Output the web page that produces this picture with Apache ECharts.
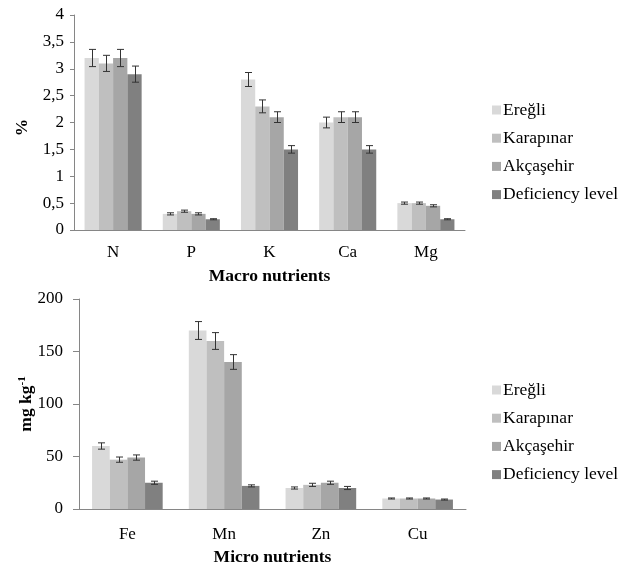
<!DOCTYPE html>
<html>
<head>
<meta charset="utf-8">
<script src="https://cdn.jsdelivr.net/npm/echarts@6/dist/echarts.min.js"></script>
<style>html,body{margin:0;padding:0;background:#fff;}#c{width:624px;height:565px;}</style>
</head>
<body>
<div id="c"></div>
<script>
const seriesNames = ['Ereğli', 'Karapınar', 'Akçaşehir', 'Deficiency level'];
const colors = ['#d9d9d9', '#bfbfbf', '#a6a6a6', '#808080'];

const macroCats = ['N', 'P', 'K', 'Ca', 'Mg'];
const macroEregli = [3.2, 0.3, 2.8, 2.0, 0.5];
const macroKarapinar = [3.1, 0.35, 2.3, 2.1, 0.5];
const macroAkcasehir = [3.2, 0.3, 2.1, 2.1, 0.45];
const macroDeficiency = [2.9, 0.2, 1.5, 1.5, 0.2];
const macroEregliErr = [0.16, 0.02, 0.13, 0.1, 0.02];
const macroKarapinarErr = [0.15, 0.02, 0.12, 0.1, 0.02];
const macroAkcasehirErr = [0.16, 0.02, 0.1, 0.1, 0.02];
const macroDeficiencyErr = [0.15, 0.01, 0.07, 0.07, 0.01];
const macroTicks = [0, 0.5, 1, 1.5, 2, 2.5, 3, 3.5, 4];

const microCats = ['Fe', 'Mn', 'Zn', 'Cu'];
const microEregli = [60, 170, 20, 10];
const microKarapinar = [47, 160, 23, 10];
const microAkcasehir = [49, 140, 25, 10];
const microDeficiency = [25, 22, 20, 9];
const microEregliErr = [3, 8.5, 1, 0.5];
const microKarapinarErr = [2.5, 8, 1.5, 0.5];
const microAkcasehirErr = [2.5, 7, 1.5, 0.5];
const microDeficiencyErr = [1.5, 1, 1.5, 0.5];
const microTicks = [0, 50, 100, 150, 200];

const macroVals = [macroEregli, macroKarapinar, macroAkcasehir, macroDeficiency];
const macroErrs = [macroEregliErr, macroKarapinarErr, macroAkcasehirErr, macroDeficiencyErr];
const microVals = [microEregli, microKarapinar, microAkcasehir, microDeficiency];
const microErrs = [microEregliErr, microKarapinarErr, microAkcasehirErr, microDeficiencyErr];

const FONT = 'Liberation Serif';
const GAP = 0.27;

function errRender(si) {
  return function (params, api) {
    const ci = api.value(0), v = api.value(1), e = api.value(2);
    const band = api.size([1, 0])[0];
    const groupW = band * (1 - GAP);
    const bw = groupW / 4;
    const c = api.coord([ci, v]);
    const x = Math.round(c[0] - groupW / 2 + bw * (si + 0.5)) + 0.5;
    const yT = api.coord([ci, v + e])[1];
    const yB = api.coord([ci, v - e])[1];
    const cap = 3.5;
    const st = { stroke: '#333', lineWidth: 1 };
    return {
      type: 'group', children: [
        { type: 'line', shape: { x1: x, y1: yT, x2: x, y2: yB }, style: st },
        { type: 'line', shape: { x1: x - cap, y1: yT, x2: x + cap, y2: yT }, style: st },
        { type: 'line', shape: { x1: x - cap, y1: yB, x2: x + cap, y2: yB }, style: st }
      ]
    };
  };
}

const series = [];
function addGroup(vals, errs, axisIdx) {
  vals.forEach((arr, i) => {
    series.push({
      type: 'bar', name: seriesNames[i], xAxisIndex: axisIdx, yAxisIndex: axisIdx,
      data: arr, barGap: '0%', barCategoryGap: (GAP * 100) + '%',
      itemStyle: { color: colors[i] }, animation: false
    });
  });
  vals.forEach((arr, i) => {
    series.push({
      type: 'custom', name: 'err' + axisIdx + '_' + i, xAxisIndex: axisIdx, yAxisIndex: axisIdx,
      renderItem: errRender(i), z: 5, animation: false,
      data: arr.map((v, k) => [k, v, errs[i][k]])
    });
  });
}
addGroup(macroVals, macroErrs, 0);
addGroup(microVals, microErrs, 1);

const axisLine = { lineStyle: { color: '#868686', width: 1 } };
const labelStyle = { fontFamily: FONT, fontSize: 17, color: '#000' };
const nameStyle = { fontFamily: FONT, fontSize: 17.5, fontWeight: 'bold', color: '#000' };

function legendAt(top) {
  return {
    orient: 'vertical', left: 487, top: top, itemWidth: 9, itemHeight: 9, itemGap: 10.2,
    icon: 'rect', data: seriesNames,
    textStyle: { fontFamily: FONT, fontSize: 17.5, color: '#000', padding: [0, 0, 0, -3] },
    selectedMode: false
  };
}

const option = {
  animation: false,
  backgroundColor: '#fff',
  legend: [legendAt(96), legendAt(376)],
  grid: [
    { left: 74, top: 15, width: 391, height: 215, containLabel: false, outerBoundsMode: 'none' },
    { left: 79, top: 299, width: 387, height: 210, containLabel: false, outerBoundsMode: 'none' }
  ],
  xAxis: [
    {
      type: 'category', gridIndex: 0, data: macroCats,
      axisLine: axisLine, axisTick: { length: 5, lineStyle: { color: '#868686' } },
      axisLabel: Object.assign({ margin: 14 }, labelStyle),
      name: 'Macro nutrients', nameLocation: 'middle', nameGap: 37, nameTextStyle: nameStyle
    },
    {
      type: 'category', gridIndex: 1, data: microCats,
      axisLine: axisLine, axisTick: { length: 5, lineStyle: { color: '#868686' } },
      axisLabel: Object.assign({ margin: 17 }, labelStyle),
      name: 'Micro nutrients', nameLocation: 'middle', nameGap: 39, nameTextStyle: nameStyle
    }
  ],
  yAxis: [
    {
      type: 'value', gridIndex: 0, min: macroTicks[0], max: macroTicks[macroTicks.length - 1], interval: 0.5,
      splitLine: { show: false }, axisLine: Object.assign({ show: true }, axisLine),
      axisTick: { show: true, length: 4, lineStyle: { color: '#868686' } },
      axisLabel: Object.assign({ margin: 10, formatter: v => String(v).replace('.', ',') }, labelStyle),
      name: '%', nameLocation: 'middle', nameGap: 43, nameRotate: 90, nameMoveOverlap: false,
      nameTextStyle: Object.assign({ padding: [0, 10, 0, 0] }, nameStyle)
    },
    {
      type: 'value', gridIndex: 1, min: microTicks[0], max: microTicks[microTicks.length - 1], interval: 50,
      splitLine: { show: false }, axisLine: Object.assign({ show: true }, axisLine),
      axisTick: { show: true, length: 6, lineStyle: { color: '#868686' } },
      axisLabel: Object.assign({ margin: 16 }, labelStyle),
      name: '{a|mg kg}{s|-1}', nameLocation: 'middle', nameGap: 43, nameRotate: 90, nameMoveOverlap: false,
      nameTextStyle: {
        rich: {
          a: { fontFamily: FONT, fontSize: 17.5, fontWeight: 'bold', color: '#000' },
          s: { fontFamily: FONT, fontSize: 11, fontWeight: 'bold', color: '#000', verticalAlign: 'top', padding: [0, 0, 8, 0] }
        }
      }
    }
  ],
  series: series
};

const chart = echarts.init(document.getElementById('c'), null, { renderer: 'canvas' });
chart.setOption(option);
</script>
</body>
</html>
